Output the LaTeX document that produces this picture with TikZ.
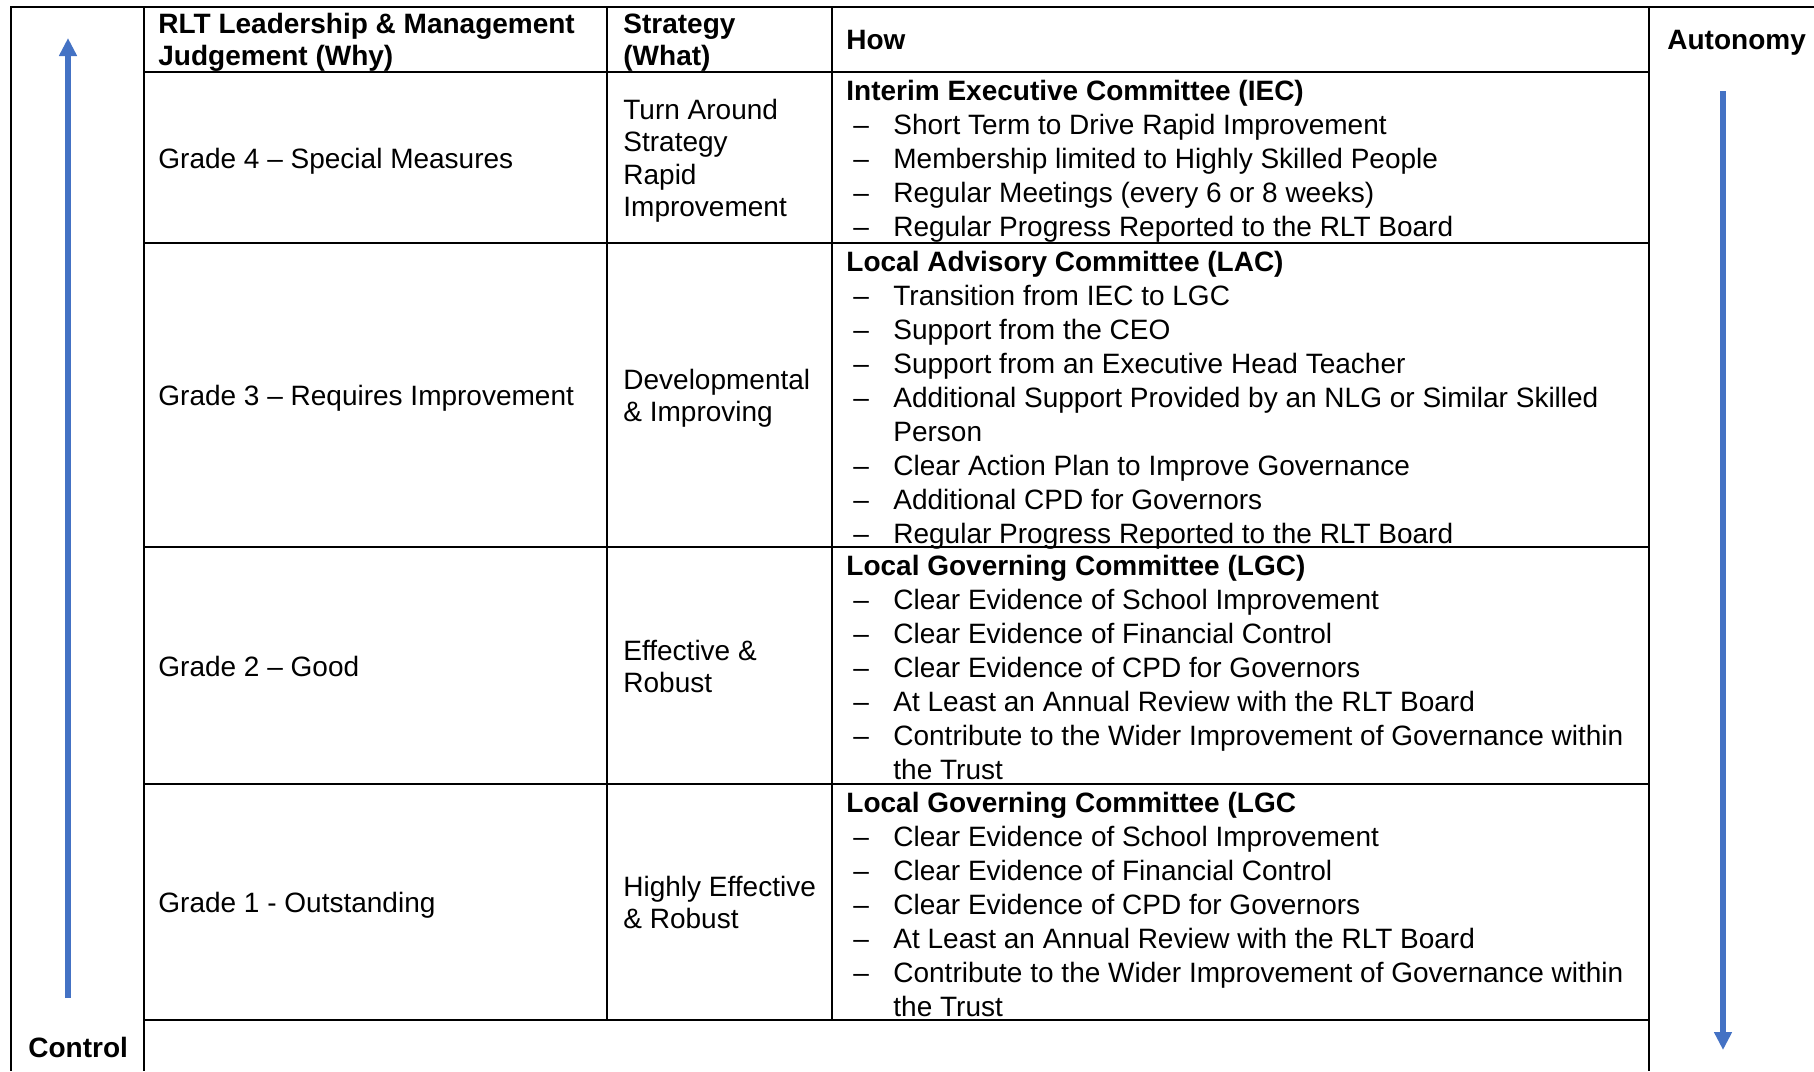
\documentclass[tikz,border=0pt]{standalone}
\usepackage{fontspec}
\setmainfont{Liberation Sans}
\usetikzlibrary{arrows.meta}
\definecolor{arrowblue}{RGB}{68, 114, 196}
\newcommand\itemdash{\makebox[23.5pt][l]{\hspace{3.5pt}–}}

\begin{document}
\begin{tikzpicture}[x=0.5pt, y=-0.5pt,
    grid/.style={line width=0.9pt, black},
    body/.style={anchor=base west, inner sep=0pt, font=\fontsize{14}{17}\selectfont},
    what/.style={anchor=base west, inner sep=0pt, font=\fontsize{14}{16.2}\selectfont},
    head/.style={anchor=base west, inner sep=0pt, font=\fontsize{14}{15.8}\selectfont\bfseries},
    flow/.style={arrowblue, line width=3pt, -{Triangle[width=8.5pt, length=9pt]}}]
            \useasboundingbox (0,0) rectangle (1814,1071);

            % Table lines
            \draw[grid] (1814,7) -- (11,7) -- (11,1071);
            \draw[grid] (144,7) -- (144,1071);
            \draw[grid] (1649,7) -- (1649,1071);
            \draw[grid] (607,7) -- (607,1020);
            \draw[grid] (832,7) -- (832,1020);
            \foreach \y in {72,243,547,784,1020}
                \draw[grid] (144,\y) -- (1649,\y);

            % Headings
            \node[head] (why) at (158,33.5) {\begin{tabular}[t]{@{}l@{}}RLT Leadership \& Management\\Judgement (Why)\end{tabular}};
            \node[head] (whathead) at (623,33.5) {\begin{tabular}[t]{@{}l@{}}Strategy\\(What)\end{tabular}};
            \node[head] (how) at (846,49.5) {How};
            \node[head] (autonomy) at (1667,49.5) {Autonomy};
            \node[head] (control) at (28,1057) {Control};

            % Judgements
            \node[body] (grade4) at (158,168) {Grade 4 – Special Measures};
            \node[body] (grade3) at (158,405) {Grade 3 – Requires Improvement};
            \node[body] (grade2) at (158,676) {Grade 2 – Good};
            \node[body] (grade1) at (158,912) {Grade 1 - Outstanding};

            % Strategies
            \node[what] (what4) at (623,119.5) {\begin{tabular}[t]{@{}l@{}}Turn Around\\Strategy\\Rapid\\Improvement\end{tabular}};
            \node[what] (what3) at (623,389.5) {\begin{tabular}[t]{@{}l@{}}Developmental\\\& Improving\end{tabular}};
            \node[what] (what2) at (623,660.5) {\begin{tabular}[t]{@{}l@{}}Effective \&\\Robust\end{tabular}};
            \node[what] (what1) at (623,896.5) {\begin{tabular}[t]{@{}l@{}}Highly Effective\\\& Robust\end{tabular}};

            % How
            \node[body] (iec) at (846,100) {\begin{tabular}[t]{@{}l@{}l@{}}
                \multicolumn{2}{@{}l@{}}{\bfseries Interim Executive Committee (IEC)}\\
                \itemdash & Short Term to Drive Rapid Improvement\\
                \itemdash & Membership limited to Highly Skilled People\\
                \itemdash & Regular Meetings (every 6 or 8 weeks)\\
                \itemdash & Regular Progress Reported to the RLT Board
            \end{tabular}};
            \node[body] (lac) at (846,271) {\begin{tabular}[t]{@{}l@{}l@{}}
                \multicolumn{2}{@{}l@{}}{\bfseries Local Advisory Committee (LAC)}\\
                \itemdash & Transition from IEC to LGC\\
                \itemdash & Support from the CEO\\
                \itemdash & Support from an Executive Head Teacher\\
                \itemdash & Additional Support Provided by an NLG or Similar Skilled\\
                & Person\\
                \itemdash & Clear Action Plan to Improve Governance\\
                \itemdash & Additional CPD for Governors\\
                \itemdash & Regular Progress Reported to the RLT Board
            \end{tabular}};
            \node[body] (lgc2) at (846,575) {\begin{tabular}[t]{@{}l@{}l@{}}
                \multicolumn{2}{@{}l@{}}{\bfseries Local Governing Committee (LGC)}\\
                \itemdash & Clear Evidence of School Improvement\\
                \itemdash & Clear Evidence of Financial Control\\
                \itemdash & Clear Evidence of CPD for Governors\\
                \itemdash & At Least an Annual Review with the RLT Board\\
                \itemdash & Contribute to the Wider Improvement of Governance within\\
                & the Trust
            \end{tabular}};
            \node[body] (lgc1) at (846,812) {\begin{tabular}[t]{@{}l@{}l@{}}
                \multicolumn{2}{@{}l@{}}{\bfseries Local Governing Committee (LGC}\\
                \itemdash & Clear Evidence of School Improvement\\
                \itemdash & Clear Evidence of Financial Control\\
                \itemdash & Clear Evidence of CPD for Governors\\
                \itemdash & At Least an Annual Review with the RLT Board\\
                \itemdash & Contribute to the Wider Improvement of Governance within\\
                & the Trust
            \end{tabular}};

            % Arrows
            \coordinate (controlfoot) at (68,998);
            \coordinate (controltip) at (68,38);
            \coordinate (autonomyfoot) at (1723,91);
            \coordinate (autonomytip) at (1723,1050);
            \draw[flow] (controlfoot) -- (controltip);
            \draw[flow] (autonomyfoot) -- (autonomytip);
        \end{tikzpicture}
\end{document}
